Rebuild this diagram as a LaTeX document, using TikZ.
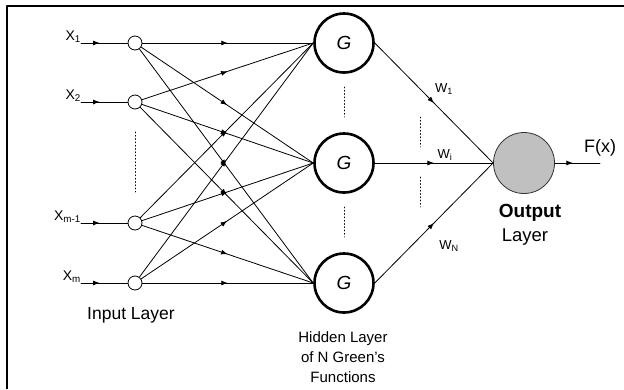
\documentclass[tikz,border=0pt]{standalone}
\usepackage{fontspec}
\setmainfont{Liberation Sans}
\usetikzlibrary{arrows.meta,decorations.markings}
\definecolor{NetGray}{HTML}{C0C0C0}
\definecolor{NetEdge}{HTML}{333333}

\newcommand{\fs}[1]{\fontsize{#1}{#1}\selectfont}

\tikzset{
  unit/.style={circle,draw,line width=0.8pt,minimum size=14pt,inner sep=0pt},
  gfunc/.style={circle,draw,line width=2.6pt,minimum size=59pt,inner sep=0pt,font=\fs{19}\itshape},
  outunit/.style={circle,draw=NetEdge,fill=NetGray,line width=0.8pt,minimum size=61pt,inner sep=0pt},
  wire/.style={line width=0.8pt,postaction={decorate},
    decoration={markings,mark=at position #1 with {\arrow{Latex[length=6.5pt,width=5pt]}}}},
  wire/.default=0.5,
  dots/.style={line width=0.8pt,dash pattern=on 0.9pt off 2.4pt},
  xlab/.style={anchor=south east,inner sep=0pt,font=\fs{14}},
  wlab/.style={inner sep=0pt,font=\fs{13}},
}

\begin{document}
\begin{tikzpicture}[x=1pt,y=-1pt,line cap=round,line join=round]
  \useasboundingbox (0,0) rectangle (624,389);
  \draw[line width=2.3pt,line cap=butt] (7,389) -- (7,6.3) -- (624,6.3);

  % input layer
  \node[unit] (in1) at (135,43) {};\node[unit] (in2) at (135,102) {};
  \node[unit] (in3) at (135,223) {};\node[unit] (in4) at (135,283) {};
  \node[xlab] (x1) at (81,43) {X\textsubscript{1}};
  \node[xlab] (x2) at (81,102) {X\textsubscript{2}};
  \node[xlab] (x3) at (81,223) {X\textsubscript{m-1}};
  \node[xlab] (x4) at (81,283) {X\textsubscript{m}};
  \foreach \i in {1,...,4}{\draw[wire=0.4] (x\i.south east) -- (in\i);}
  \draw[dots] (135,132) -- (135,192);

  % hidden layer of Green's functions
  \node[gfunc] (g1) at (344,43) {G};
  \node[gfunc] (g2) at (344,163) {G};
  \node[gfunc] (g3) at (344,283) {G};
  \foreach \i in {1,...,4}{\foreach \j in {1,2,3}{\draw[wire] (in\i) -- (g\j.west);}}
  \draw[dots] (344,87) -- (344,117);\draw[dots] (344,207) -- (344,237);

  % output layer
  \node[outunit] (out) at (524,163) {};
  \coordinate (hub) at (out.west);
  \foreach \j in {1,2,3}{\draw[wire] (g\j.east) -- (hub);}
  \draw[dots] (420,117) -- (420,147);\draw[dots] (420,177) -- (420,207);
  \node[wlab] (w1) at (444,89) {W\textsubscript{1}};
  \node[wlab] (wi) at (445,155) {W\textsubscript{i}};
  \node[wlab] (wn) at (449,246) {W\textsubscript{N}};
  \coordinate (fx) at (600,163);
  \draw[wire=0.4] (out) -- (fx);
  \node[font=\fs{18}] (fxl) at (600,148) {F(x)};

  % layer captions
  \node[font=\fs{17.5}] (inlab) at (131,315) {Input Layer};
  \node[font=\fs{19}\bfseries] (outlab) at (530,213) {Output};
  \node[font=\fs{18.5}] (outlab2) at (525,237) {Layer};
  \node[align=center,font=\fontsize{15}{20}\selectfont] (hidlab) at (343,357)
    {Hidden Layer\\of N Green's\\Functions};
\end{tikzpicture}
\end{document}
